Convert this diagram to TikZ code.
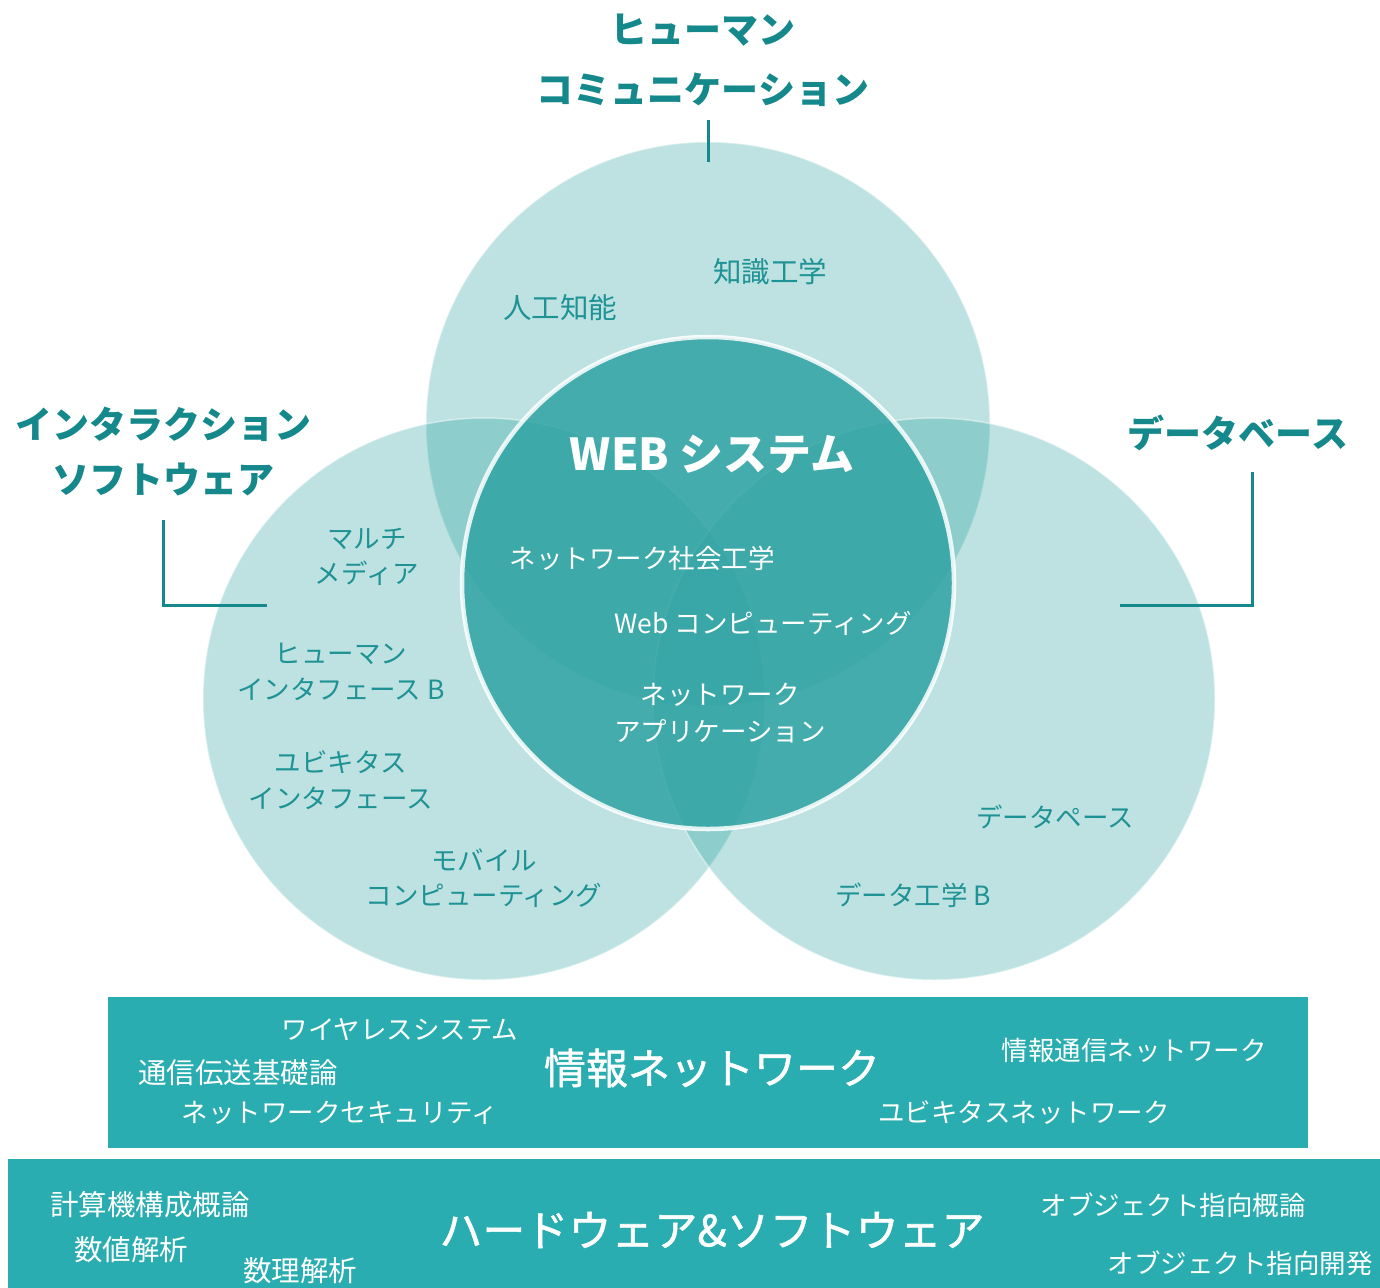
\documentclass[tikz,border=0pt]{standalone}
\usepackage{fontspec}
\setmainfont{Noto Sans CJK JP}
\newfontfamily\jpmed[FakeBold=1.2]{Noto Sans CJK JP}
\definecolor{circ}{RGB}{27,155,153}
\definecolor{inner}{RGB}{48,163,163}
\definecolor{labteal}{RGB}{30,146,148}
\definecolor{headteal}{RGB}{20,136,138}
\definecolor{bandcol}{RGB}{41,173,176}
\begin{document}
\begin{tikzpicture}[x=1pt,y=-1pt,
  bigc/.style={circle, inner sep=0pt, minimum size=#1, fill=circ, fill opacity=0.29, draw=white, draw opacity=0.45, line width=1.5pt},
  innerc/.style={circle, inner sep=0pt, minimum size=492pt, fill=inner, fill opacity=0.85, draw=white, draw opacity=0.85, line width=4.5pt},
  lab/.style={text=labteal, font=\fontsize{26.5}{35.5}\selectfont, align=center, inner sep=0pt},
  klab/.style={text=labteal, font=\fontsize{28.5}{35}\selectfont, align=center, inner sep=0pt},
  head/.style={text=headteal, font=\bfseries\fontsize{37}{60}\selectfont, align=center, inner sep=0pt},
  wlab/.style={text=white, font=\fontsize{26.5}{37}\selectfont, align=center, inner sep=0pt},
  wklab/.style={text=white, font=\fontsize{28.5}{35}\selectfont, align=center, inner sep=0pt},
  wtitle/.style={text=white, font=\jpmed\fontsize{42}{50}\selectfont, inner sep=0pt},
  conn/.style={draw=headteal, line width=3pt},
  band/.style={fill=bandcol, draw=none, inner sep=0pt, anchor=north west}]

\useasboundingbox (0,0) rectangle (1380,1287);

% big circles
\node[bigc=564pt] (ctop) at (708,424) {};
\node[bigc=562pt] (cleft) at (484,699) {};
\node[bigc=562pt] (cright) at (934,699) {};
% centre circle
\node[innerc] (cweb) at (708,583) {};

% bands
\node[band, minimum width=1200pt, minimum height=151pt] (rnet) at (108,997) {};
\node[band, minimum width=1380pt, minimum height=135pt] (rhw) at (8,1159) {};

% headings
\node[head] (hhum) at (703,60) {ヒューマン\\コミュニケーション};
\node[head, font=\bfseries\fontsize{37}{55}\selectfont] (hint) at (163,452) {インタラクション\\ソフトウェア};
\node[head] (hdb) at (1238,433) {データベース};

% connectors
\coordinate (t1) at (708,120);
\coordinate (t2) at (708,162);
\draw[conn] (t1) -- (t2);
\coordinate (l1) at (163,520);
\coordinate (l2) at (267,605);
\draw[conn] (l1) |- (l2);
\coordinate (r1) at (1252,472);
\coordinate (r2) at (1120,605);
\draw[conn] (r1) |- (r2);

% circle labels
\node[klab] (ai) at (560,308) {人工知能};
\node[klab] (ke) at (770,272) {知識工学};
\node[lab] (mm) at (367,557) {マルチ\\メディア};
\node[lab] (hib) at (341,672) {ヒューマン\\インタフェース B};
\node[lab] (ubi) at (341,780) {ユビキタス\\インタフェース};
\node[lab] (mob) at (484,878) {モバイル\\コンピューティング};
\node[lab] (dbl) at (1055,817) {データペース};
\node[lab] (deb) at (913,895) {データ工学 B};

% centre labels
\node[wtitle, font=\bfseries\fontsize{44}{50}\selectfont] (web) at (712,454) {WEB システム};
\node[wlab] (nse) at (642,558) {ネットワーク社会工学};
\node[wlab] (wc) at (763,623) {Web コンピューティング};
\node[wlab] (na) at (720,713) {ネットワーク\\アプリケーション};

% information network band
\node[wlab] (wls) at (400,1030) {ワイヤレスシステム};
\node[wklab] (tsk) at (238,1073) {通信伝送基礎論};
\node[wlab] (nsec) at (340,1113) {ネットワークセキュリティ};
\node[wtitle] (jnet) at (712,1068) {情報ネットワーク};
\node[wlab] (jtn) at (1134,1050) {情報通信ネットワーク};
\node[wlab] (ubn) at (1024,1113) {ユビキタスネットワーク};

% hardware & software band
\node[wklab] (kkg) at (150,1205) {計算機構成概論};
\node[wklab] (sck) at (131,1250) {数値解析};
\node[wklab] (srk) at (300,1271) {数理解析};
\node[wtitle, font=\jpmed\fontsize{43}{50}\selectfont] (hws) at (712,1230) {ハードウェア\&ソフトウェア};
\node[wlab] (oog) at (1173,1205) {オブジェクト指向概論};
\node[wlab] (ood) at (1240,1263) {オブジェクト指向開発};
\end{tikzpicture}
\end{document}
